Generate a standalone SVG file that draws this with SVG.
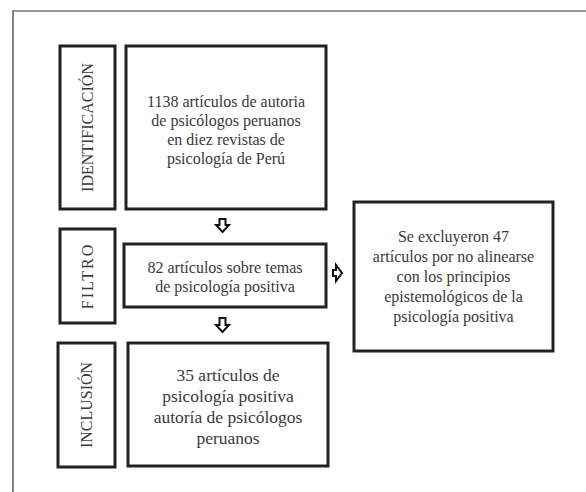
<svg xmlns="http://www.w3.org/2000/svg" width="586" height="492" viewBox="0 0 586 492">
<style>
.frame{fill:none;stroke:#333;stroke-width:1.2}
.box{fill:#fff;stroke:#222;stroke-width:3}
text{font-family:"Liberation Serif","Times New Roman",serif;fill:#3a3a3a;text-anchor:middle}
.m{font-size:16px}
.b{font-size:17.5px}
.v{font-size:16px}
.arr{fill:#fff;stroke:#111;stroke-width:2;stroke-linejoin:miter}
</style>
<rect width="586" height="492" fill="#fff"/>
<path class="frame" d="M13 500 V11 H600"/>
<g id="label-identificacion">
<rect class="box" x="60" y="46" width="55" height="163"/>
<text class="v" transform="translate(93,127.5) rotate(-90)">IDENTIFICACIÓN</text>
</g>
<g id="node-1138">
<rect class="box" x="126" y="46" width="200" height="163"/>
<text class="m" x="226" y="107">1138 artículos de autoria</text>
<text class="m" x="226" y="126">de psicólogos peruanos</text>
<text class="m" x="226" y="145">en diez revistas de</text>
<text class="m" x="226" y="164">psicología de Perú</text>
</g>
<g id="label-filtro">
<rect class="box" x="60" y="229" width="55" height="94"/>
<text class="v" transform="translate(93,276) rotate(-90)" letter-spacing="2">FILTRO</text>
</g>
<g id="node-82">
<rect class="box" x="124" y="244" width="202" height="63"/>
<text class="m" x="225" y="273">82 artículos sobre temas</text>
<text class="m" x="225" y="292">de psicología positiva</text>
</g>
<g id="node-excluded">
<rect class="box" x="354" y="202" width="199" height="149"/>
<text class="m" x="453.5" y="242">Se excluyeron 47</text>
<text class="m" x="453.5" y="262">artículos por no alinearse</text>
<text class="m" x="453.5" y="282">con los principios</text>
<text class="m" x="453.5" y="302">epistemológicos de la</text>
<text class="m" x="453.5" y="322">psicología positiva</text>
</g>
<g id="label-inclusion">
<rect class="box" x="58" y="343" width="57" height="124"/>
<text class="v" transform="translate(92,405) rotate(-90)">INCLUSIÓN</text>
</g>
<g id="node-35">
<rect class="box" x="128" y="343" width="200" height="123"/>
<text class="b" x="228" y="381">35 artículos de</text>
<text class="b" x="228" y="402">psicología positiva</text>
<text class="b" x="228" y="423">autoría de psicólogos</text>
<text class="b" x="228" y="444">peruanos</text>
</g>
<g id="connectors">
<path class="arr" d="M219.5 219 H225.5 V225 H229 L222.5 232 L216 225 H219.5 Z"/>
<path class="arr" d="M336 270 V265 L342 273 L336 281 V276 H333 V270 Z"/>
<path class="arr" d="M219.5 318 H225.5 V325 H229 L222.5 332 L216 325 H219.5 Z"/>
</g>
</svg>
